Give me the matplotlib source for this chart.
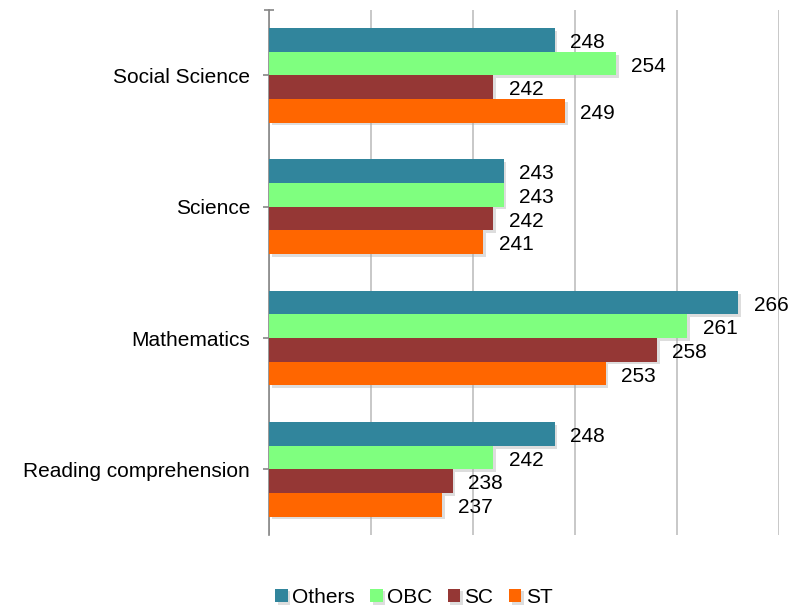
import numpy as np
import matplotlib.pyplot as plt
from matplotlib import patheffects as pe

plt.rcParams['font.family'] = ['Liberation Sans', 'DejaVu Sans']

# subjects from bottom to top
subjects = ['Reading comprehension', 'Mathematics', 'Science', 'Social Science']
groups = ['Others', 'OBC', 'SC', 'ST']
others = [248, 266, 243, 248]
obc = [242, 261, 243, 254]
sc = [238, 258, 242, 242]
st = [237, 253, 241, 249]
colors = ['#31859C', '#7FFF7F', '#953735', '#FF6600']

fig = plt.figure(figsize=(8.05, 6.08), dpi=100)
ax = fig.add_axes([0.334, 0.120, 0.634, 0.864])

y = np.arange(len(subjects))
h = 0.18
shadow = [pe.SimplePatchShadow(offset=(2, -2), shadow_rgbFace='#aaaaaa', alpha=0.4), pe.Normal()]
for i, (name, vals, col) in enumerate(zip(groups, [others, obc, sc, st], colors)):
    pos = y + (1.5 - i) * h
    bars = ax.barh(pos, np.array(vals) - 220, left=220, height=h, color=col, label=name, zorder=3)
    for b in bars:
        b.set_path_effects(shadow)
    for p, v in zip(pos, vals):
        ax.text(v + 1.5, p - 0.02, str(v), va='center', ha='left', fontsize=15, zorder=4)

ax.set_xlim(220, 270)
ax.set_ylim(-0.5, 3.5)
ax.set_xticks(np.arange(220, 271, 10))
ax.set_xticklabels([])
ax.tick_params(axis='x', length=0)
ax.grid(axis='x', color='#BFBFBF', linewidth=1.2, zorder=0)

ax.set_yticks(y)
ax.set_yticklabels(subjects, fontsize=15)
ax.tick_params(axis='y', length=4, width=1.2, color='#868686', pad=9.5)
# small cap at the top end of the axis line
ax.set_yticks([3.5], minor=True)
ax.tick_params(axis='y', which='minor', length=7, direction='inout', color='#868686', width=1.2)

for s in ['top', 'right', 'bottom']:
    ax.spines[s].set_visible(False)
ax.spines['left'].set_color('#868686')
ax.spines['left'].set_linewidth(1.2)

fig.legend(*ax.get_legend_handles_labels(), loc='center', bbox_to_anchor=(0.514, 0.018), ncol=4,
           frameon=False, fontsize=15, handlelength=0.6, handleheight=0.6, handletextpad=0.2,
           columnspacing=0.75, borderpad=0)

fig.savefig('out.png', dpi=100)
